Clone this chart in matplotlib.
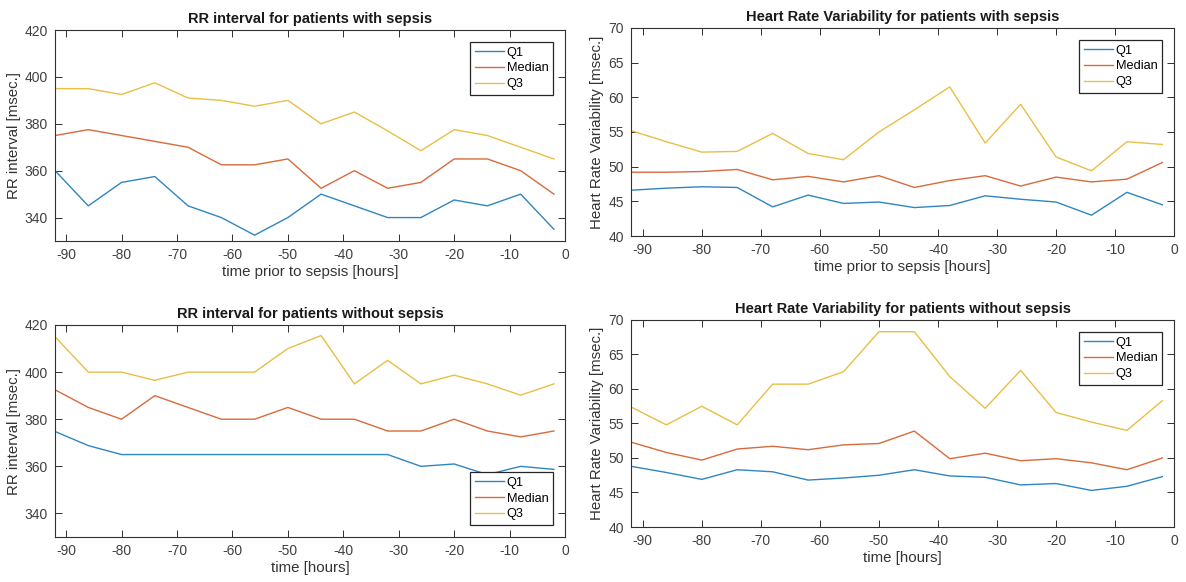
import matplotlib
matplotlib.use("Agg")
import matplotlib.pyplot as plt

plt.rcParams['font.family'] = ['Liberation Sans', 'DejaVu Sans']
plt.rcParams['axes.unicode_minus'] = False

hours = [-92, -86, -80, -74, -68, -62, -56, -50, -44, -38, -32, -26, -20, -14, -8, -2]
series_names = ["Q1", "Median", "Q3"]

rr_sepsis_q1 = [360, 345, 355, 357.5, 345, 340, 332.5, 340, 350, 345, 340, 340, 347.5, 345, 350, 335]
rr_sepsis_med = [375, 377.5, 375, 372.5, 370, 362.5, 362.5, 365, 352.5, 360, 352.5, 355, 365, 365, 360, 350]
rr_sepsis_q3 = [395, 395, 392.5, 397.5, 391, 390, 387.5, 390, 380, 385, 377, 368.5, 377.5, 375, 370, 365]

hrv_sepsis_q1 = [46.6, 46.9, 47.1, 47.0, 44.2, 45.9, 44.7, 44.9, 44.1, 44.4, 45.8, 45.3, 44.9, 43.0, 46.3, 44.5]
hrv_sepsis_med = [49.2, 49.2, 49.3, 49.6, 48.1, 48.6, 47.8, 48.7, 47.0, 48.0, 48.7, 47.2, 48.5, 47.8, 48.2, 50.6]
hrv_sepsis_q3 = [55.2, 53.6, 52.1, 52.2, 54.8, 51.9, 51.0, 55.0, 58.2, 61.5, 53.4, 59.0, 51.4, 49.4, 53.6, 53.2]

rr_nosepsis_q1 = [374.8, 368.8, 365, 365, 365, 365, 365, 365, 365, 365, 365, 360, 361, 356.5, 360, 358.7]
rr_nosepsis_med = [392.5, 385, 380, 390, 385, 380, 380, 385, 380, 380, 375, 375, 380, 375, 372.5, 375]
rr_nosepsis_q3 = [415, 400, 400, 396.5, 400, 400, 400, 410, 415.5, 395, 405, 395, 398.7, 395, 390.2, 395]

hrv_nosepsis_q1 = [48.8, 47.9, 46.9, 48.3, 48.0, 46.8, 47.1, 47.5, 48.3, 47.4, 47.2, 46.1, 46.3, 45.3, 45.9, 47.3]
hrv_nosepsis_med = [52.3, 50.8, 49.7, 51.3, 51.7, 51.2, 51.9, 52.1, 53.9, 49.9, 50.7, 49.6, 49.9, 49.3, 48.3, 50.0]
hrv_nosepsis_q3 = [57.4, 54.8, 57.5, 54.8, 60.7, 60.7, 62.5, 68.3, 68.3, 61.8, 57.2, 62.7, 56.6, 55.2, 54.0, 58.3]

colors = ["#2f86c0", "#d86a3c", "#e8bf45"]
axis_col = "#303030"

fig = plt.figure(figsize=(11.86, 5.82), dpi=100)

panels = [
    dict(pos=[0.0464, 0.5859, 0.4300, 0.3625], data=[rr_sepsis_q1, rr_sepsis_med, rr_sepsis_q3],
         title="RR interval for patients with sepsis", xlabel="time prior to sepsis [hours]",
         ylabel="RR interval [msec.]", ylim=(330, 420), yticks=[340, 360, 380, 400, 420], loc="upper right"),
    dict(pos=[0.5320, 0.5945, 0.4580, 0.3574], data=[hrv_sepsis_q1, hrv_sepsis_med, hrv_sepsis_q3],
         title="Heart Rate Variability for patients with sepsis", xlabel="time prior to sepsis [hours]",
         ylabel="Heart Rate Variability [msec.]", ylim=(40, 70), yticks=[40, 45, 50, 55, 60, 65, 70], loc="upper right"),
    dict(pos=[0.0464, 0.0773, 0.4300, 0.3643], data=[rr_nosepsis_q1, rr_nosepsis_med, rr_nosepsis_q3],
         title="RR interval for patients without sepsis", xlabel="time [hours]",
         ylabel="RR interval [msec.]", ylim=(330, 420), yticks=[340, 360, 380, 400, 420], loc="lower right"),
    dict(pos=[0.5320, 0.0945, 0.4580, 0.3557], data=[hrv_nosepsis_q1, hrv_nosepsis_med, hrv_nosepsis_q3],
         title="Heart Rate Variability for patients without sepsis", xlabel="time [hours]",
         ylabel="Heart Rate Variability [msec.]", ylim=(40, 70), yticks=[40, 45, 50, 55, 60, 65, 70], loc="upper right"),
]

for p in panels:
    ax = fig.add_axes(p["pos"])
    for vals, name, c in zip(p["data"], series_names, colors):
        ax.plot(hours, vals, color=c, lw=1.0, label=name)
    ax.set_xlim(-92, 0)
    ax.set_ylim(*p["ylim"])
    ax.set_xticks(list(range(-90, 1, 10)))
    ax.set_yticks(p["yticks"])
    ax.tick_params(direction="in", top=True, right=True, labelsize=10, colors=axis_col,
                   length=5, width=0.7, labelcolor="#404040", pad=5)
    for s in ax.spines.values():
        s.set_color(axis_col)
        s.set_linewidth(0.8)
    ax.set_title(p["title"], fontsize=10.5, fontweight="bold", color="#1a1a1a", pad=5)
    ax.set_xlabel(p["xlabel"], fontsize=10.8, color="#333333", labelpad=2)
    ax.set_ylabel(p["ylabel"], fontsize=10.8, color="#333333", labelpad=3)
    leg = ax.legend(loc=p["loc"], fontsize=9.2, frameon=True, fancybox=False, framealpha=1,
                    edgecolor="#262626", handlelength=2.3, handletextpad=0.2, borderpad=0.35,
                    labelspacing=0.3, borderaxespad=0.95)
    leg.get_frame().set_linewidth(0.9)

fig.savefig("out.png", dpi=100)
